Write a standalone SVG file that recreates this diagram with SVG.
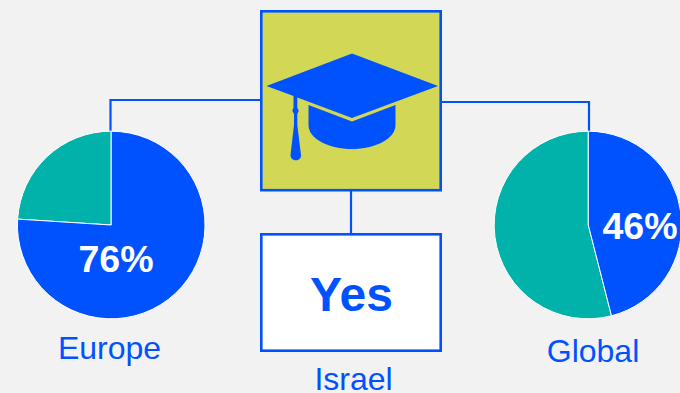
<svg xmlns="http://www.w3.org/2000/svg" width="680" height="393" viewBox="0 0 680 393">
<style>
.c{fill:none;stroke:#0052ff;stroke-width:2.200}
.b{fill:#0052ff}
.g{fill:#00b2a9}
.s{stroke:#fff;stroke-width:1;stroke-linejoin:round}
.f{stroke:#0052ff;stroke-width:2.600}
text{font-family:"Liberation Sans",Arial,sans-serif}
.l{font-size:32px;fill:#0052ff;text-anchor:middle}
.p{font-size:37.500px;font-weight:700;fill:#fff;text-anchor:middle}
</style>
<rect width="680" height="393" fill="#f2f2f2"/>
<g id="connectors">
<path class="c" d="M261 100H110.500V132"/>
<path class="c" d="M441 102H589V132"/>
<path class="c" d="M351 190V234"/>
</g>
<g id="cap">
<rect class="f" x="261.300" y="11.300" width="179.400" height="178.900" fill="#d2d755"/>
<path class="b" d="M352 53.500L438 86L352 118L297.300 97.500V107.500L298.800 110.700L297.300 114V125L301 155C301.500 162 290.500 162 290.500 155L294 125V114L292.300 110.700L293.500 107.500V96L266.500 86Z"/>
<path class="b" d="M308.500 105L352 121.500L395.500 105V125C395.500 139 375 149 352 149C329 149 308.500 139 308.500 125Z"/>
</g>
<g id="europe">
<path class="g s" d="M111.200 225L17.600 219.100A93.800 93.800 0 0 1 111.200 131.200Z"/>
<path class="b s" d="M111.200 131.200A93.800 93.800 0 1 1 17.600 219.100L111.200 225Z"/>
<text class="p" x="116" y="271.500">76%</text>
<text class="l" x="109.500" y="359">Europe</text>
</g>
<g id="israel">
<rect class="f" x="261.300" y="234.300" width="179.400" height="116.400" fill="#fff"/>
<text x="351.500" y="311" font-size="48" font-weight="700" fill="#0052ff" text-anchor="middle">Yes</text>
<text class="l" x="353.500" y="390">Israel</text>
</g>
<g id="global">
<path class="g s" d="M588.300 225L611.500 315.800A93.800 93.800 0 1 1 588.300 131.200Z"/>
<path class="b s" d="M588.300 131.200A93.800 93.800 0 0 1 611.500 315.800L588.300 225Z"/>
<text class="p" x="640" y="238.500">46%</text>
<text class="l" x="593" y="362">Global</text>
</g>
</svg>
